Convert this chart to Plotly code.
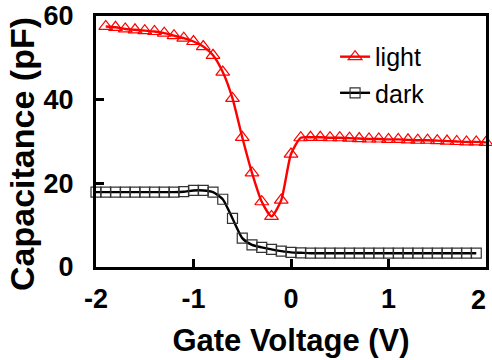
import plotly.graph_objects as go

light_v = [-1.9, -1.8, -1.7, -1.6, -1.5, -1.4, -1.3, -1.2, -1.1, -1.0,
           -0.9, -0.8, -0.7, -0.6, -0.5, -0.4, -0.3, -0.2, -0.1, 0.0,
           0.1, 0.2, 0.3, 0.4, 0.5, 0.6, 0.7, 0.8, 0.9, 1.0,
           1.1, 1.2, 1.3, 1.4, 1.5, 1.6, 1.7, 1.8, 1.9, 2.0]
light_c = [57.5, 57.3, 56.9, 56.7, 56.5, 56.3, 55.9, 55.3, 54.7, 53.9,
           52.7, 50.6, 46.6, 40.3, 31.0, 22.5, 15.6, 12.1, 16.0, 27.0,
           30.9, 31.0, 31.0, 30.9, 30.9, 30.8, 30.7, 30.6, 30.6, 30.5,
           30.5, 30.4, 30.3, 30.3, 30.2, 30.1, 30.0, 29.9, 29.9, 29.8]

dark_v = [-2.0, -1.9, -1.8, -1.7, -1.6, -1.5, -1.4, -1.3, -1.2, -1.1,
          -1.0, -0.9, -0.8, -0.7, -0.6, -0.5, -0.4, -0.3, -0.2, -0.1,
          0.0, 0.1, 0.2, 0.3, 0.4, 0.5, 0.6, 0.7, 0.8, 0.9,
          1.0, 1.1, 1.2, 1.3, 1.4, 1.5, 1.6, 1.7, 1.8, 1.9]
dark_c = [17.9, 17.9, 17.9, 17.9, 17.9, 17.9, 17.9, 17.9, 17.9, 18.0,
          18.3, 18.3, 17.9, 16.2, 11.6, 6.9, 5.3, 4.7, 4.2, 3.8,
          3.5, 3.4, 3.3, 3.3, 3.3, 3.3, 3.3, 3.3, 3.3, 3.3,
          3.3, 3.3, 3.3, 3.3, 3.3, 3.3, 3.3, 3.3, 3.3, 3.3]

x_ticks = [-2, -1, 0, 1, 2]
x_tick_labels = ["-2", "-1", "0", "1", "2"]
y_ticks = [0, 20, 40, 60]
y_tick_labels = ["0", "20", "40", "60"]

FONT = "Liberation Sans, Arial, sans-serif"

fig = go.Figure()
fig.add_trace(go.Scatter(
    x=light_v, y=light_c, name="light", mode="lines+markers",
    line=dict(color="#ff0000", width=2.4, shape="spline", smoothing=0.6),
    marker=dict(symbol="triangle-up-open", size=12, color="#ff0000",
                line=dict(width=1.2, color="#ff0000")),
    cliponaxis=False, legend="legend"))
fig.add_trace(go.Scatter(
    x=dark_v, y=dark_c, name="dark", mode="lines+markers",
    line=dict(color="#000000", width=2.4, shape="spline", smoothing=0.6),
    marker=dict(symbol="square-open", size=10, color="#333333",
                line=dict(width=1.2, color="#333333")),
    cliponaxis=False, legend="legend2"))

axis_common = dict(showline=True, linewidth=3, linecolor="black", mirror=True,
                   ticks="inside", ticklen=8, tickwidth=3, tickcolor="black",
                   showgrid=False, zeroline=False, automargin=False,
                   tickfont=dict(family=FONT, size=27, color="black"))

# last x label is drawn right-aligned at its tick so it stays inside the page
x_text = ["<b>%s</b>" % t for t in x_tick_labels[:-1]] + [""]

fig.update_layout(
    width=492, height=360,
    showlegend=True,
    margin=dict(l=96, r=6, t=16, b=93),
    plot_bgcolor="white", paper_bgcolor="white",
    xaxis=dict(range=[-2, 2], tickvals=x_ticks, ticktext=x_text,
               ticklabelstandoff=6,
               title=dict(text="<b>Gate Voltage (V)</b>", standoff=16,
                          font=dict(family=FONT, size=31, color="black")),
               **axis_common),
    yaxis=dict(range=[0, 60], tickvals=y_ticks,
               ticktext=["<b>%s</b>" % t for t in y_tick_labels],
               ticklabelstandoff=14,
               **axis_common),
    annotations=[
        dict(text="<b>Capacitance (pF)</b>", textangle=-90,
             xref="paper", yref="paper", x=-0.19, y=0.45,
             xanchor="center", yanchor="middle", showarrow=False,
             font=dict(family=FONT, size=34, color="black")),
        dict(text="<b>%s</b>" % x_tick_labels[-1],
             xref="x", yref="paper", x=x_ticks[-1], y=-0.131,
             xanchor="right", yanchor="middle", showarrow=False, xshift=2,
             font=dict(family=FONT, size=27, color="black")),
    ],
    legend=dict(x=0.613, y=0.837, xanchor="left", yanchor="middle",
                bgcolor="rgba(0,0,0,0)",
                font=dict(family=FONT, size=25, color="black")),
    legend2=dict(x=0.613, y=0.693, xanchor="left", yanchor="middle",
                 bgcolor="rgba(0,0,0,0)",
                 font=dict(family=FONT, size=25, color="black")),
)

fig.write_html("out.html")
